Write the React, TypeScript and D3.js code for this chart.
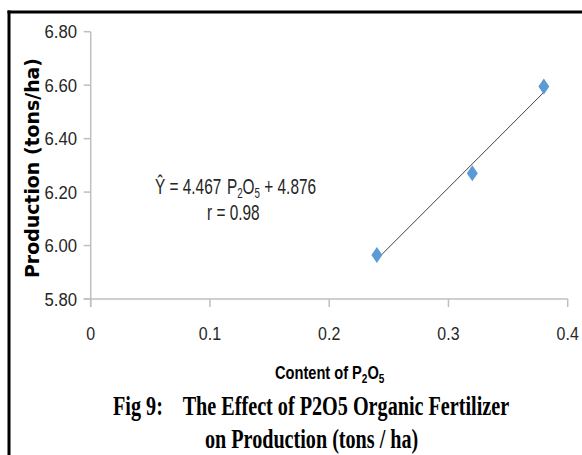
import * as d3 from 'd3';

const xValues = [0.24, 0.32, 0.38];
const yValues = [5.965, 6.27, 6.595];
const xTicks = [0, 0.1, 0.2, 0.3, 0.4];
const yTicks = [5.8, 6.0, 6.2, 6.4, 6.6, 6.8];
const slope = 4.467;
const intercept = 4.876;
const rValue = '0.98';

const W = 582;
const H = 455;
const sans = "'Liberation Sans', Arial, sans-serif";
const serif = "'Liberation Serif', 'DejaVu Serif', serif";

export default function App(): JSX.Element {
  const x = d3.scaleLinear().domain([0, 0.4]).range([90.7, 567.7]);
  const y = d3.scaleLinear().domain([5.8, 6.8]).range([299, 31.7]);

  const points = xValues.map((v, i) => ({ x: v, y: yValues[i] }));
  const [x0, x1] = d3.extent(xValues) as [number, number];
  const trend = d3.line<number>()
    .x(d => x(d))
    .y(d => y(slope * d + intercept));

  const diamond = (cx: number, cy: number) =>
    `M${cx},${cy - 8}L${cx + 5.5},${cy}L${cx},${cy + 8}L${cx - 5.5},${cy}Z`;

  const axisColor = '#bfbfbf';
  const labelStyle = { fontFamily: sans, fontSize: '19px', fill: '#262626' };
  const captionStyle = { fontFamily: serif, fontWeight: 'bold', fontSize: '27px', fill: '#000', whiteSpace: 'pre' };

  return (
    <svg
      width={W}
      height={H}
      style={{ position: 'fixed', left: 0, top: 0, background: '#fff' }}
    >
      {/* frame: top and left only */}
      <line x1={7.5} x2={W} y1={12} y2={12} stroke="black" strokeWidth={3} />
      <line x1={9} x2={9} y1={10.5} y2={H} stroke="black" strokeWidth={3} />

      {/* y axis */}
      <line x1={x(0)} x2={x(0)} y1={y(6.8)} y2={y(5.8) + 8} stroke={axisColor} strokeWidth={1.5} />
      {yTicks.map(t => (
        <g key={t} transform={`translate(0,${y(t)})`}>
          <line x1={x(0) - 7} x2={x(0)} stroke={axisColor} strokeWidth={1.5} />
          <text
            transform="translate(77,0) scale(0.88,1)"
            dy="0.35em"
            textAnchor="end"
            style={labelStyle}
          >
            {t.toFixed(2)}
          </text>
        </g>
      ))}

      {/* x axis */}
      <line x1={x(0) - 7} x2={x(0.4)} y1={y(5.8)} y2={y(5.8)} stroke={axisColor} strokeWidth={1.5} />
      {xTicks.map(t => (
        <g key={t} transform={`translate(${x(t)},0)`}>
          <line y1={y(5.8)} y2={y(5.8) + 8} stroke={axisColor} strokeWidth={1.5} />
          <text
            transform="translate(0,333) scale(0.84,1)"
            dy="0.35em"
            textAnchor="middle"
            style={labelStyle}
          >
            {String(t)}
          </text>
        </g>
      ))}

      {/* trendline */}
      <path d={trend([x0, x1]) || ''} fill="none" stroke="#404040" strokeWidth={1} />

      {/* points */}
      {points.map((p, i) => (
        <path key={i} d={diamond(x(p.x), y(p.y))} fill="#5b9bd5" />
      ))}

      {/* equation */}
      <text
        transform="translate(155,194) scale(0.7,1)"
        style={{ fontFamily: sans, fontSize: '22px', fill: '#262626' }}
      >
        <tspan>{`Ŷ = ${slope.toFixed(3)}`}</tspan>
        <tspan dx={8}>P</tspan>
        <tspan dy={4} style={{ fontSize: '14px' }}>2</tspan>
        <tspan dy={-4}>O</tspan>
        <tspan dy={4} style={{ fontSize: '14px' }}>5</tspan>
        <tspan dy={-4}>{` + ${intercept.toFixed(3)}`}</tspan>
      </text>
      <text
        transform="translate(207,220) scale(0.7,1)"
        style={{ fontFamily: sans, fontSize: '22px', fill: '#262626' }}
      >
        {`r = ${rValue}`}
      </text>

      {/* y title */}
      <text
        transform="translate(39,168) rotate(-90)"
        textAnchor="middle"
        textLength={220}
        lengthAdjust="spacingAndGlyphs"
        style={{ fontFamily: "'DejaVu Sans', Verdana, sans-serif", fontWeight: 'bold', fontSize: '20px', fill: '#000' }}
      >
        Production (tons/ha)
      </text>

      {/* x title */}
      <text
        transform="translate(275,379) scale(0.77,1)"
        style={{ fontFamily: sans, fontWeight: 'bold', fontSize: '19px', fill: '#000' }}
      >
        <tspan>Content of P</tspan>
        <tspan dy={4} style={{ fontSize: '13px' }}>2</tspan>
        <tspan dy={-4}>O</tspan>
        <tspan dy={4} style={{ fontSize: '13px' }}>5</tspan>
      </text>

      {/* caption, horizontally condensed like the source */}
      <text
        transform="translate(113,415) scale(0.746,1)"
        textLength={531}
        lengthAdjust="spacingAndGlyphs"
        style={captionStyle}
      >
        {'Fig 9:    The Effect of P2O5 Organic Fertilizer'}
      </text>
      <text
        transform="translate(205,448) scale(0.743,1)"
        textLength={287}
        lengthAdjust="spacingAndGlyphs"
        style={captionStyle}
      >
        on Production (tons / ha)
      </text>
    </svg>
  );
}
